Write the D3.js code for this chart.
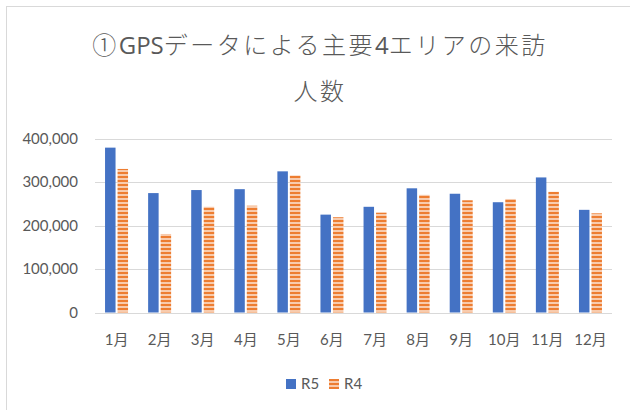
<!DOCTYPE html>
<meta charset="utf-8">
<style>
body{
	margin:0;
	background:#fff;
}
svg text{
	font-family:Lato,"Noto Sans CJK JP",sans-serif;
	fill:#595959;
}
.title{
	font-family:"Noto Sans CJK JP",sans-serif;
	font-size:24px;
	font-weight:300;
	letter-spacing:2.5px;
}
.title .lat{
	font-family:"Open Sans",sans-serif;
	font-weight:400;
	letter-spacing:0;
}
</style>
<script src="https://cdn.jsdelivr.net/npm/d3@7"></script>
<body>
<div id="chart"></div>
<script>

var months = ["1月","2月","3月","4月","5月","6月","7月","8月","9月","10月","11月","12月"]
var r5 = [379000,274500,281500,283500,324500,225000,243000,285500,273000,253500,310500,236000]
var r4 = [330000,180500,243000,245500,315000,219000,229500,270500,258000,261000,277500,228000]
var yTicks = [0,100000,200000,300000,400000]
var seriesNames = ["R5","R4"]

var W = 630, H = 410
var svg = d3.select("#chart").append("svg").attr("width",W).attr("height",H)

// outer chart box (runs off the right and bottom edges)
svg.append("rect").attr("x",6.5).attr("y",6.5).attr("width",W).attr("height",H)
	.attr("fill","none").attr("stroke","#d9d9d9")

// stripe pattern for R4
var pat = svg.append("defs").append("pattern").attr("id","stripe")
	.attr("patternUnits","userSpaceOnUse").attr("width",4).attr("height",4)
pat.append("rect").attr("width",4).attr("height",4).attr("fill","#f8cbad")
pat.append("rect").attr("width",4).attr("height",2).attr("fill","#ed7d31")

// title, latin bits in another face like the original
var t1 = svg.append("text").attr("class","title").attr("x",320).attr("y",54)
	.attr("text-anchor","middle")
var parts = [["①",0],["GPS",1],["データによる主要",0],["4",1],["エリアの来訪",0]]
parts.forEach(function(p){
	t1.append("tspan").attr("class",p[1] ? "lat" : null).text(p[0])
})
svg.append("text").attr("class","title").attr("x",320).attr("y",100)
	.attr("text-anchor","middle").text("人数")

var x = d3.scaleBand().domain(months).range([95,612])
var y = d3.scaleLinear().domain([0,400000]).range([312.5,138.5])

// gridlines
svg.append("g").selectAll("line").data(yTicks).enter().append("line")
	.attr("x1",95).attr("x2",612)
	.attr("y1",function(d){return Math.round(y(d))+0.5})
	.attr("y2",function(d){return Math.round(y(d))+0.5})
	.attr("stroke","#d9d9d9").attr("stroke-width",1)

// y labels
svg.append("g").selectAll("text").data(yTicks).enter().append("text")
	.attr("x",78).attr("y",function(d){return y(d)+5})
	.attr("text-anchor","end").style("font-size","15px")
	.text(function(d){return d3.format(",")(d)})

var barW = 10.5, gap = 2

svg.append("g").selectAll("rect").data(r5).enter().append("rect")
	.attr("x",function(d,i){return x(months[i])+x.bandwidth()/2-gap/2-barW})
	.attr("y",function(d){return y(d)})
	.attr("width",barW)
	.attr("height",function(d){return y(0)-y(d)})
	.attr("fill","#4472c4")

svg.append("g").selectAll("rect").data(r4).enter().append("rect")
	.attr("x",function(d,i){return x(months[i])+x.bandwidth()/2+gap/2})
	.attr("y",function(d){return y(d)})
	.attr("width",barW)
	.attr("height",function(d){return y(0)-y(d)})
	.attr("fill","url(#stripe)")

// x labels
svg.append("g").selectAll("text").data(months).enter().append("text")
	.attr("x",function(d){return x(d)+x.bandwidth()/2})
	.attr("y",345)
	.attr("text-anchor","middle").style("font-size","15px")
	.text(function(d){return d})

// legend
var leg = svg.append("g").selectAll("g").data(seriesNames).enter().append("g")
	.attr("transform",function(d,i){return "translate("+(286+i*43)+",379)"})
leg.append("rect").attr("width",10).attr("height",10)
	.attr("fill",function(d,i){return i==0 ? "#4472c4" : "url(#stripe)"})
leg.append("text").attr("x",15).attr("y",10).style("font-size","15px")
	.text(function(d){return d})

</script>
